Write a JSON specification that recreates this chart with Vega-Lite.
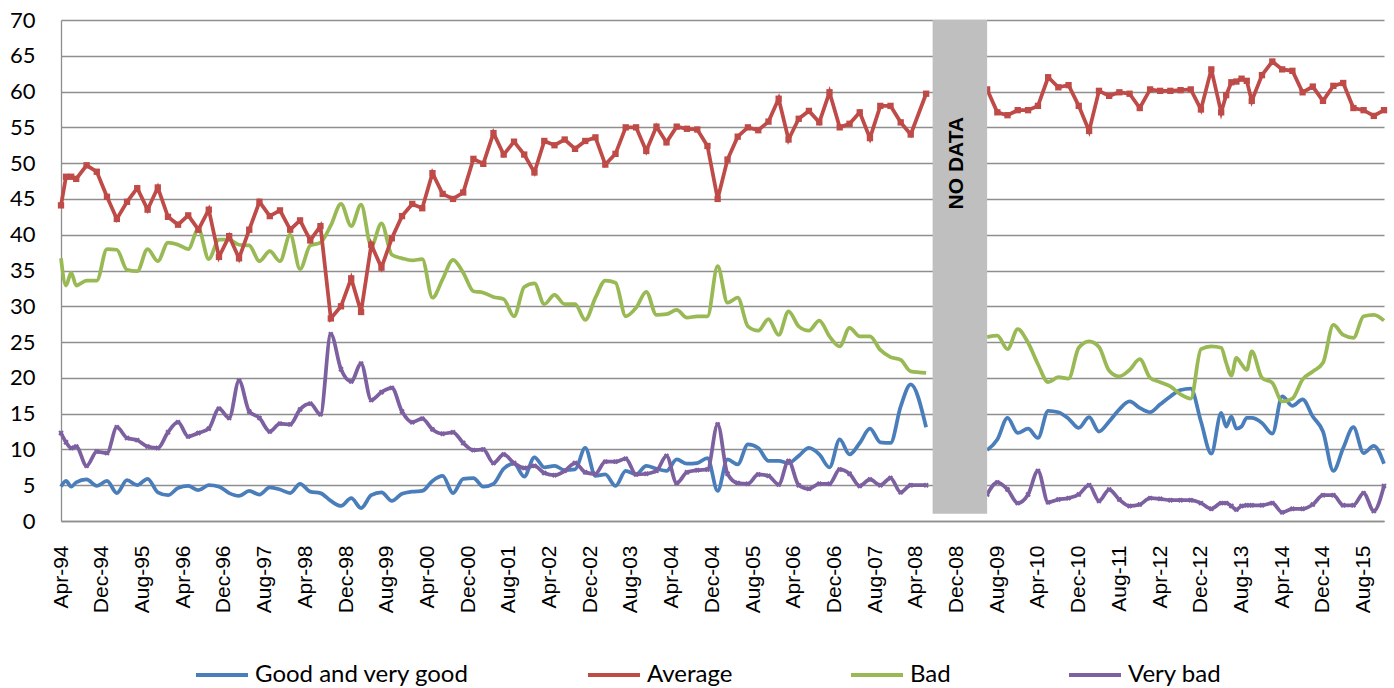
{
"$schema": "https://vega.github.io/schema/vega-lite/v6.json",
"width": 1323, "height": 501,
"autosize": "none",
"padding": {"left": 61, "top": 20, "right": 10, "bottom": 167},
"background": "white",
"config": {"view": {"stroke": null}, "font": "Lato"},
"datasets": {
"gap": [{"s": "2008-07-10", "e": "2009-06-01", "mid": "2008-12-05", "label": "NO DATA"}],
"survey": [
{"d":"1994-04-01","p":1,"Good and very good":4.8,"Average":44.1,"Bad":36.7,"Very bad":12.3},
{"d":"1994-05-01","p":1,"Good and very good":5.6,"Average":48.1,"Bad":32.9,"Very bad":11.0},
{"d":"1994-06-01","p":1,"Good and very good":4.8,"Average":48.1,"Bad":34.7,"Very bad":10.2},
{"d":"1994-07-01","p":1,"Good and very good":5.4,"Average":47.8,"Bad":32.9,"Very bad":10.4},
{"d":"1994-09-01","p":1,"Good and very good":5.8,"Average":49.7,"Bad":33.6,"Very bad":7.7},
{"d":"1994-11-01","p":1,"Good and very good":4.9,"Average":48.8,"Bad":33.6,"Very bad":9.7},
{"d":"1995-01-01","p":1,"Good and very good":5.6,"Average":45.3,"Bad":38.0,"Very bad":9.5},
{"d":"1995-03-01","p":1,"Good and very good":3.9,"Average":42.2,"Bad":37.9,"Very bad":13.1},
{"d":"1995-05-01","p":1,"Good and very good":5.7,"Average":44.6,"Bad":35.1,"Very bad":11.6},
{"d":"1995-07-01","p":1,"Good and very good":5.0,"Average":46.5,"Bad":34.9,"Very bad":11.3},
{"d":"1995-09-01","p":1,"Good and very good":5.9,"Average":43.5,"Bad":38.0,"Very bad":10.4},
{"d":"1995-11-01","p":1,"Good and very good":4.0,"Average":46.6,"Bad":36.3,"Very bad":10.2},
{"d":"1996-01-01","p":1,"Good and very good":3.6,"Average":42.5,"Bad":38.9,"Very bad":12.4},
{"d":"1996-03-01","p":1,"Good and very good":4.6,"Average":41.4,"Bad":38.6,"Very bad":13.8},
{"d":"1996-05-01","p":1,"Good and very good":4.9,"Average":42.7,"Bad":38.0,"Very bad":11.8},
{"d":"1996-07-01","p":1,"Good and very good":4.3,"Average":40.7,"Bad":40.8,"Very bad":12.3},
{"d":"1996-09-01","p":1,"Good and very good":5.0,"Average":43.5,"Bad":36.6,"Very bad":12.9},
{"d":"1996-11-01","p":1,"Good and very good":4.8,"Average":36.9,"Bad":39.3,"Very bad":15.7},
{"d":"1997-01-01","p":1,"Good and very good":3.9,"Average":39.8,"Bad":39.3,"Very bad":14.4},
{"d":"1997-03-01","p":1,"Good and very good":3.5,"Average":36.7,"Bad":38.6,"Very bad":19.6},
{"d":"1997-05-01","p":1,"Good and very good":4.2,"Average":40.7,"Bad":38.5,"Very bad":15.3},
{"d":"1997-07-01","p":1,"Good and very good":3.7,"Average":44.6,"Bad":36.3,"Very bad":14.4},
{"d":"1997-09-01","p":1,"Good and very good":4.7,"Average":42.6,"Bad":37.7,"Very bad":12.5},
{"d":"1997-11-01","p":1,"Good and very good":4.4,"Average":43.4,"Bad":36.3,"Very bad":13.6},
{"d":"1998-01-01","p":1,"Good and very good":3.9,"Average":40.7,"Bad":40.0,"Very bad":13.5},
{"d":"1998-03-01","p":1,"Good and very good":5.2,"Average":42.0,"Bad":35.2,"Very bad":15.6},
{"d":"1998-05-01","p":1,"Good and very good":4.1,"Average":39.2,"Bad":38.5,"Very bad":16.4},
{"d":"1998-07-01","p":1,"Good and very good":3.9,"Average":41.2,"Bad":38.9,"Very bad":14.9},
{"d":"1998-09-01","p":1,"Good and very good":2.8,"Average":28.3,"Bad":41.3,"Very bad":26.1},
{"d":"1998-11-01","p":1,"Good and very good":2.1,"Average":30.0,"Bad":44.3,"Very bad":21.2},
{"d":"1999-01-01","p":1,"Good and very good":3.2,"Average":33.9,"Bad":41.2,"Very bad":19.5},
{"d":"1999-03-01","p":1,"Good and very good":1.8,"Average":29.2,"Bad":44.2,"Very bad":22.0},
{"d":"1999-05-01","p":1,"Good and very good":3.6,"Average":38.6,"Bad":38.4,"Very bad":16.9},
{"d":"1999-07-01","p":1,"Good and very good":4.0,"Average":35.4,"Bad":41.6,"Very bad":18.0},
{"d":"1999-09-01","p":1,"Good and very good":2.8,"Average":39.5,"Bad":37.2,"Very bad":18.6},
{"d":"1999-11-01","p":1,"Good and very good":3.8,"Average":42.6,"Bad":36.7,"Very bad":15.3},
{"d":"2000-01-01","p":1,"Good and very good":4.1,"Average":44.3,"Bad":36.4,"Very bad":13.8},
{"d":"2000-03-01","p":1,"Good and very good":4.2,"Average":43.7,"Bad":36.6,"Very bad":14.3},
{"d":"2000-05-01","p":1,"Good and very good":5.6,"Average":48.6,"Bad":31.2,"Very bad":12.8},
{"d":"2000-07-01","p":1,"Good and very good":6.3,"Average":45.7,"Bad":33.8,"Very bad":12.2},
{"d":"2000-09-01","p":1,"Good and very good":3.9,"Average":45.0,"Bad":36.5,"Very bad":12.4},
{"d":"2000-11-01","p":1,"Good and very good":5.9,"Average":45.9,"Bad":34.7,"Very bad":10.9},
{"d":"2001-01-01","p":1,"Good and very good":6.0,"Average":50.6,"Bad":32.1,"Very bad":9.9},
{"d":"2001-03-01","p":1,"Good and very good":4.8,"Average":49.9,"Bad":31.9,"Very bad":10.0},
{"d":"2001-05-01","p":1,"Good and very good":5.2,"Average":54.2,"Bad":31.3,"Very bad":8.1},
{"d":"2001-07-01","p":1,"Good and very good":7.3,"Average":51.2,"Bad":31.0,"Very bad":9.3},
{"d":"2001-09-01","p":1,"Good and very good":8.0,"Average":53.0,"Bad":28.6,"Very bad":8.1},
{"d":"2001-11-01","p":1,"Good and very good":6.2,"Average":51.2,"Bad":32.7,"Very bad":7.4},
{"d":"2002-01-01","p":1,"Good and very good":8.9,"Average":48.7,"Bad":33.2,"Very bad":7.7},
{"d":"2002-03-01","p":1,"Good and very good":7.5,"Average":53.1,"Bad":30.3,"Very bad":6.7},
{"d":"2002-05-01","p":1,"Good and very good":7.7,"Average":52.5,"Bad":31.6,"Very bad":6.4},
{"d":"2002-07-01","p":1,"Good and very good":7.1,"Average":53.3,"Bad":30.3,"Very bad":7.0},
{"d":"2002-09-01","p":1,"Good and very good":7.2,"Average":52.0,"Bad":30.3,"Very bad":8.1},
{"d":"2002-11-01","p":1,"Good and very good":10.2,"Average":53.1,"Bad":28.1,"Very bad":6.8},
{"d":"2003-01-01","p":1,"Good and very good":6.3,"Average":53.6,"Bad":31.2,"Very bad":6.6},
{"d":"2003-03-01","p":1,"Good and very good":6.5,"Average":49.8,"Bad":33.6,"Very bad":8.3},
{"d":"2003-05-01","p":1,"Good and very good":4.9,"Average":51.3,"Bad":33.3,"Very bad":8.3},
{"d":"2003-07-01","p":1,"Good and very good":7.0,"Average":55.0,"Bad":28.6,"Very bad":8.7},
{"d":"2003-09-01","p":1,"Good and very good":6.5,"Average":55.0,"Bad":29.8,"Very bad":6.5},
{"d":"2003-11-01","p":1,"Good and very good":7.7,"Average":51.7,"Bad":32.0,"Very bad":6.6},
{"d":"2004-01-01","p":1,"Good and very good":7.3,"Average":55.1,"Bad":28.8,"Very bad":7.0},
{"d":"2004-03-01","p":1,"Good and very good":7.0,"Average":52.9,"Bad":28.9,"Very bad":9.1},
{"d":"2004-05-01","p":1,"Good and very good":8.6,"Average":55.1,"Bad":29.5,"Very bad":5.3},
{"d":"2004-07-01","p":1,"Good and very good":8.0,"Average":54.8,"Bad":28.4,"Very bad":6.8},
{"d":"2004-09-01","p":1,"Good and very good":8.1,"Average":54.7,"Bad":28.6,"Very bad":7.1},
{"d":"2004-11-01","p":1,"Good and very good":8.8,"Average":52.4,"Bad":28.6,"Very bad":7.2},
{"d":"2005-01-01","p":1,"Good and very good":4.2,"Average":45.0,"Bad":35.6,"Very bad":13.5},
{"d":"2005-03-01","p":1,"Good and very good":8.6,"Average":50.5,"Bad":30.5,"Very bad":6.6},
{"d":"2005-05-01","p":1,"Good and very good":7.9,"Average":53.7,"Bad":31.2,"Very bad":5.3},
{"d":"2005-07-01","p":1,"Good and very good":10.7,"Average":55.0,"Bad":27.2,"Very bad":5.2},
{"d":"2005-09-01","p":1,"Good and very good":10.2,"Average":54.6,"Bad":26.6,"Very bad":6.5},
{"d":"2005-11-01","p":1,"Good and very good":8.4,"Average":55.8,"Bad":28.2,"Very bad":6.3},
{"d":"2006-01-01","p":1,"Good and very good":8.4,"Average":59.0,"Bad":26.0,"Very bad":5.1},
{"d":"2006-03-01","p":1,"Good and very good":8.1,"Average":53.3,"Bad":29.3,"Very bad":8.4},
{"d":"2006-05-01","p":1,"Good and very good":9.1,"Average":56.2,"Bad":27.2,"Very bad":5.0},
{"d":"2006-07-01","p":1,"Good and very good":10.2,"Average":57.3,"Bad":26.6,"Very bad":4.5},
{"d":"2006-09-01","p":1,"Good and very good":9.3,"Average":55.7,"Bad":28.0,"Very bad":5.2},
{"d":"2006-11-01","p":1,"Good and very good":7.5,"Average":59.9,"Bad":25.8,"Very bad":5.2},
{"d":"2007-01-01","p":1,"Good and very good":11.4,"Average":55.0,"Bad":24.4,"Very bad":7.2},
{"d":"2007-03-01","p":1,"Good and very good":9.3,"Average":55.5,"Bad":27.0,"Very bad":6.6},
{"d":"2007-05-01","p":1,"Good and very good":10.9,"Average":57.1,"Bad":25.8,"Very bad":4.9},
{"d":"2007-07-01","p":1,"Good and very good":12.9,"Average":53.5,"Bad":25.8,"Very bad":5.8},
{"d":"2007-09-01","p":1,"Good and very good":11.0,"Average":58.0,"Bad":23.9,"Very bad":5.0},
{"d":"2007-11-01","p":1,"Good and very good":10.9,"Average":58.0,"Bad":22.9,"Very bad":6.0},
{"d":"2008-01-01","p":1,"Good and very good":16.0,"Average":55.7,"Bad":22.5,"Very bad":4.0},
{"d":"2008-03-01","p":1,"Good and very good":19.1,"Average":54.0,"Bad":20.9,"Very bad":5.0},
{"d":"2008-06-01","p":1,"Good and very good":13.1,"Average":59.7,"Bad":20.7,"Very bad":5.0},
{"d":"2009-06-01","p":2,"Good and very good":9.9,"Average":60.3,"Bad":25.7,"Very bad":3.7},
{"d":"2009-08-01","p":2,"Good and very good":11.4,"Average":57.1,"Bad":25.9,"Very bad":5.4},
{"d":"2009-10-01","p":2,"Good and very good":14.4,"Average":56.7,"Bad":24.0,"Very bad":4.4},
{"d":"2009-12-01","p":2,"Good and very good":12.3,"Average":57.4,"Bad":26.8,"Very bad":2.5},
{"d":"2010-02-01","p":2,"Good and very good":12.9,"Average":57.4,"Bad":24.9,"Very bad":3.7},
{"d":"2010-04-01","p":2,"Good and very good":11.6,"Average":58.0,"Bad":21.9,"Very bad":7.0},
{"d":"2010-06-01","p":2,"Good and very good":15.4,"Average":62.0,"Bad":19.4,"Very bad":2.6},
{"d":"2010-08-01","p":2,"Good and very good":15.2,"Average":60.6,"Bad":20.1,"Very bad":3.0},
{"d":"2010-10-01","p":2,"Good and very good":14.3,"Average":60.9,"Bad":19.9,"Very bad":3.2},
{"d":"2010-12-01","p":2,"Good and very good":13.0,"Average":58.0,"Bad":24.2,"Very bad":3.7},
{"d":"2011-02-01","p":2,"Good and very good":14.5,"Average":54.5,"Bad":25.1,"Very bad":5.0},
{"d":"2011-04-01","p":2,"Good and very good":12.5,"Average":60.1,"Bad":24.3,"Very bad":2.8},
{"d":"2011-06-01","p":2,"Good and very good":13.9,"Average":59.4,"Bad":21.0,"Very bad":4.4},
{"d":"2011-08-01","p":2,"Good and very good":15.6,"Average":59.9,"Bad":20.2,"Very bad":3.0},
{"d":"2011-10-01","p":2,"Good and very good":16.7,"Average":59.7,"Bad":21.1,"Very bad":2.1},
{"d":"2011-12-01","p":2,"Good and very good":15.8,"Average":57.7,"Bad":22.6,"Very bad":2.3},
{"d":"2012-02-01","p":2,"Good and very good":15.2,"Average":60.3,"Bad":20.0,"Very bad":3.2},
{"d":"2012-04-01","p":2,"Good and very good":16.3,"Average":60.1,"Bad":19.4,"Very bad":3.1},
{"d":"2012-06-01","p":2,"Good and very good":17.4,"Average":60.1,"Bad":18.8,"Very bad":2.9},
{"d":"2012-08-01","p":2,"Good and very good":18.3,"Average":60.2,"Bad":17.7,"Very bad":2.9},
{"d":"2012-10-01","p":2,"Good and very good":18.5,"Average":60.3,"Bad":17.1,"Very bad":2.9},
{"d":"2012-12-01","p":2,"Good and very good":13.9,"Average":57.5,"Bad":24.0,"Very bad":2.5},
{"d":"2013-02-01","p":2,"Good and very good":9.4,"Average":63.1,"Bad":24.4,"Very bad":1.7},
{"d":"2013-04-01","p":2,"Good and very good":15.1,"Average":57.1,"Bad":24.2,"Very bad":2.5},
{"d":"2013-05-01","p":2,"Good and very good":13.2,"Average":59.5,"Bad":22.1,"Very bad":2.5},
{"d":"2013-06-01","p":2,"Good and very good":14.6,"Average":61.3,"Bad":20.3,"Very bad":2.1},
{"d":"2013-07-01","p":2,"Good and very good":12.9,"Average":61.4,"Bad":22.8,"Very bad":1.6},
{"d":"2013-08-01","p":2,"Good and very good":13.2,"Average":61.8,"Bad":21.9,"Very bad":2.1},
{"d":"2013-09-01","p":2,"Good and very good":14.4,"Average":61.5,"Bad":21.1,"Very bad":2.2},
{"d":"2013-10-01","p":2,"Good and very good":14.4,"Average":58.7,"Bad":23.7,"Very bad":2.2},
{"d":"2013-12-01","p":2,"Good and very good":13.7,"Average":62.3,"Bad":20.0,"Very bad":2.2},
{"d":"2014-02-01","p":2,"Good and very good":12.2,"Average":64.2,"Bad":19.3,"Very bad":2.5},
{"d":"2014-04-01","p":2,"Good and very good":17.4,"Average":63.1,"Bad":16.7,"Very bad":1.2},
{"d":"2014-06-01","p":2,"Good and very good":16.1,"Average":62.9,"Bad":17.1,"Very bad":1.7},
{"d":"2014-08-01","p":2,"Good and very good":17.0,"Average":59.9,"Bad":19.8,"Very bad":1.7},
{"d":"2014-10-01","p":2,"Good and very good":14.6,"Average":60.7,"Bad":20.9,"Very bad":2.3},
{"d":"2014-12-01","p":2,"Good and very good":12.5,"Average":58.7,"Bad":22.1,"Very bad":3.6},
{"d":"2015-02-01","p":2,"Good and very good":7.0,"Average":60.8,"Bad":27.4,"Very bad":3.6},
{"d":"2015-04-01","p":2,"Good and very good":10.2,"Average":61.2,"Bad":26.0,"Very bad":2.2},
{"d":"2015-06-01","p":2,"Good and very good":13.1,"Average":57.7,"Bad":25.6,"Very bad":2.2},
{"d":"2015-08-01","p":2,"Good and very good":9.5,"Average":57.4,"Bad":28.6,"Very bad":3.9},
{"d":"2015-10-01","p":2,"Good and very good":10.5,"Average":56.6,"Bad":28.8,"Very bad":1.4},
{"d":"2015-12-01","p":2,"Good and very good":8.0,"Average":57.4,"Bad":28.0,"Very bad":4.9}
]
},
"layer": [
{
"data": {"name": "survey"},
"transform": [
{"fold": ["Good and very good", "Average", "Bad", "Very bad"], "as": ["series", "value"]},
{"filter": "datum.series !== 'Average'"}
],
"mark": {"type": "line", "interpolate": "monotone", "strokeWidth": 3.75},
"encoding": {
"x": {"field": "d", "type": "temporal", "scale": {"type": "utc", "domain": [{"year": 1994, "month": 4, "date": 1, "utc": true}, {"year": 2015, "month": 12, "date": 1, "utc": true}], "nice": false}, "axis": {
"title": null, "format": "%b-%y", "labelAngle": 270, "labelFont": "Liberation Sans", "labelFontSize": 21, "labelColor": "black", "labelPadding": 24, "ticks": false, "grid": false, "domainColor": "#8E8E8E", "domainWidth": 1.3, "labelOverlap": false, "labelFlush": false, "labelBound": false, "tickCount": 60,
"values": [
{"year": 1994, "month": 4, "date": 1, "utc": true},
{"year": 1994, "month": 12, "date": 1, "utc": true},
{"year": 1995, "month": 8, "date": 1, "utc": true},
{"year": 1996, "month": 4, "date": 1, "utc": true},
{"year": 1996, "month": 12, "date": 1, "utc": true},
{"year": 1997, "month": 8, "date": 1, "utc": true},
{"year": 1998, "month": 4, "date": 1, "utc": true},
{"year": 1998, "month": 12, "date": 1, "utc": true},
{"year": 1999, "month": 8, "date": 1, "utc": true},
{"year": 2000, "month": 4, "date": 1, "utc": true},
{"year": 2000, "month": 12, "date": 1, "utc": true},
{"year": 2001, "month": 8, "date": 1, "utc": true},
{"year": 2002, "month": 4, "date": 1, "utc": true},
{"year": 2002, "month": 12, "date": 1, "utc": true},
{"year": 2003, "month": 8, "date": 1, "utc": true},
{"year": 2004, "month": 4, "date": 1, "utc": true},
{"year": 2004, "month": 12, "date": 1, "utc": true},
{"year": 2005, "month": 8, "date": 1, "utc": true},
{"year": 2006, "month": 4, "date": 1, "utc": true},
{"year": 2006, "month": 12, "date": 1, "utc": true},
{"year": 2007, "month": 8, "date": 1, "utc": true},
{"year": 2008, "month": 4, "date": 1, "utc": true},
{"year": 2008, "month": 12, "date": 1, "utc": true},
{"year": 2009, "month": 8, "date": 1, "utc": true},
{"year": 2010, "month": 4, "date": 1, "utc": true},
{"year": 2010, "month": 12, "date": 1, "utc": true},
{"year": 2011, "month": 8, "date": 1, "utc": true},
{"year": 2012, "month": 4, "date": 1, "utc": true},
{"year": 2012, "month": 12, "date": 1, "utc": true},
{"year": 2013, "month": 8, "date": 1, "utc": true},
{"year": 2014, "month": 4, "date": 1, "utc": true},
{"year": 2014, "month": 12, "date": 1, "utc": true},
{"year": 2015, "month": 8, "date": 1, "utc": true}
]}},
"y": {"field": "value", "type": "quantitative", "scale": {"domain": [0, 70], "nice": false, "zero": true}, "axis": {
"title": null, "values": [0, 5, 10, 15, 20, 25, 30, 35, 40, 45, 50, 55, 60, 65, 70], "tickCount": 30, "labelOverlap": false, "grid": true, "gridColor": "#8E8E8E", "gridWidth": 1.3, "domainColor": "#8E8E8E", "domainWidth": 1.3, "ticks": false, "labelFont": "Lato", "labelFontSize": 22, "labelColor": "black", "labelPadding": 26
}},
"color": {"field": "series", "type": "nominal",
"scale": {"domain": ["Good and very good", "Average", "Bad", "Very bad"], "range": ["#4A7EBB", "#BE4B48", "#98B954", "#7D60A0"]},
"legend": {"title": null, "orient": "none", "legendX": 133, "legendY": 627, "direction": "horizontal", "symbolType": "stroke", "symbolSize": 2704, "symbolStrokeWidth": 4, "labelFont": "Lato", "labelFontSize": 24, "labelColor": "black", "columnPadding": 110, "labelOffset": 5, "labelLimit": 400, "padding": 0}},
"detail": {"field": "p", "type": "nominal"}
}
},
{
"data": {"name": "survey"},
"transform": [
{"fold": ["Good and very good", "Average", "Bad", "Very bad"], "as": ["series", "value"]},
{"filter": "datum.series === 'Average'"}
],
"mark": {"type": "line", "strokeWidth": 3.75},
"encoding": {
"x": {"field": "d", "type": "temporal"},
"y": {"field": "value", "type": "quantitative"},
"color": {"field": "series", "type": "nominal"},
"detail": {"field": "p", "type": "nominal"}
}
},
{
"data": {"name": "survey"},
"transform": [
{"fold": ["Average"], "as": ["series", "value"]}
],
"mark": {"type": "point", "shape": "square", "filled": true, "size": 40, "opacity": 1},
"encoding": {
"x": {"field": "d", "type": "temporal"},
"y": {"field": "value", "type": "quantitative"},
"color": {"field": "series", "type": "nominal", "legend": null}
}
},
{
"data": {"name": "survey"},
"transform": [
{"fold": ["Very bad"], "as": ["series", "value"]}
],
"mark": {"type": "point", "shape": "cross", "angle": 45, "filled": true, "size": 30, "opacity": 1},
"encoding": {
"x": {"field": "d", "type": "temporal"},
"y": {"field": "value", "type": "quantitative"},
"color": {"field": "series", "type": "nominal", "legend": null}
}
},
{
"data": {"name": "gap"},
"mark": {"type": "rect", "color": "#BFBFBF"},
"encoding": {
"x": {"field": "s", "type": "temporal"},
"x2": {"field": "e"},
"y": {"datum": 1, "type": "quantitative"},
"y2": {"datum": 70}
}
},
{
"data": {"name": "gap"},
"mark": {"type": "text", "angle": 270, "font": "Liberation Sans", "fontWeight": "bold", "fontSize": 21, "color": "black", "align": "center", "baseline": "middle"},
"encoding": {
"x": {"field": "mid", "type": "temporal"},
"y": {"datum": 50, "type": "quantitative"},
"text": {"field": "label"}
}
}
]
}
